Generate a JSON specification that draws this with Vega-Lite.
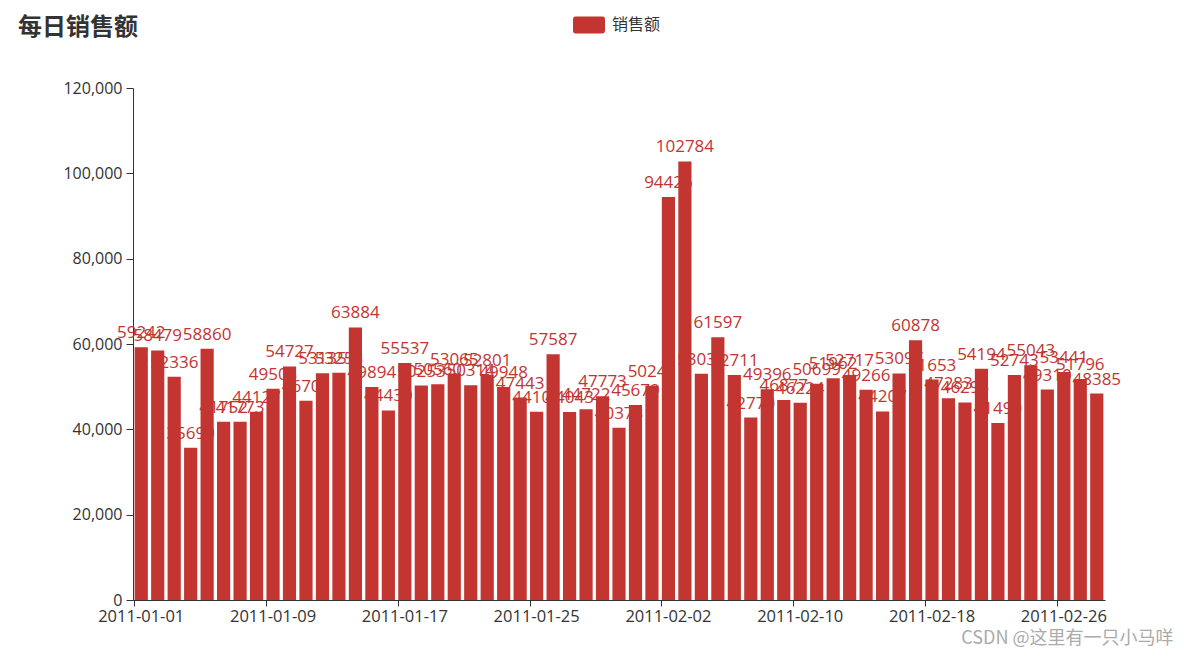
{
  "$schema": "https://vega.github.io/schema/vega-lite/v6.json",
  "autosize": {"type": "none"},
  "width": 972,
  "height": 512,
  "padding": {"left": 133, "top": 88, "right": 79, "bottom": 57},
  "background": "white",
  "view": {"stroke": null},
  "title": {
    "text": "每日销售额",
    "anchor": "start",
    "frame": "group",
    "dx": -115,
    "dy": 50,
    "offset": 0,
    "baseline": "alphabetic",
    "font": "Noto Sans CJK SC",
    "fontSize": 24,
    "fontWeight": "bold",
    "color": "#333333"
  },
  "data": {
    "values": [
      {"date": "2011-01-01", "sales": 59242, "series": "销售额"},
      {"date": "2011-01-02", "sales": 58479, "series": "销售额"},
      {"date": "2011-01-03", "sales": 52336, "series": "销售额"},
      {"date": "2011-01-04", "sales": 35690, "series": "销售额"},
      {"date": "2011-01-05", "sales": 58860, "series": "销售额"},
      {"date": "2011-01-06", "sales": 41752, "series": "销售额"},
      {"date": "2011-01-07", "sales": 41773, "series": "销售额"},
      {"date": "2011-01-08", "sales": 44127, "series": "销售额"},
      {"date": "2011-01-09", "sales": 49503, "series": "销售额"},
      {"date": "2011-01-10", "sales": 54727, "series": "销售额"},
      {"date": "2011-01-11", "sales": 46701, "series": "销售额"},
      {"date": "2011-01-12", "sales": 53135, "series": "销售额"},
      {"date": "2011-01-13", "sales": 53255, "series": "销售额"},
      {"date": "2011-01-14", "sales": 63884, "series": "销售额"},
      {"date": "2011-01-15", "sales": 49894, "series": "销售额"},
      {"date": "2011-01-16", "sales": 44430, "series": "销售额"},
      {"date": "2011-01-17", "sales": 55537, "series": "销售额"},
      {"date": "2011-01-18", "sales": 50253, "series": "销售额"},
      {"date": "2011-01-19", "sales": 50560, "series": "销售额"},
      {"date": "2011-01-20", "sales": 53065, "series": "销售额"},
      {"date": "2011-01-21", "sales": 50314, "series": "销售额"},
      {"date": "2011-01-22", "sales": 52801, "series": "销售额"},
      {"date": "2011-01-23", "sales": 49948, "series": "销售额"},
      {"date": "2011-01-24", "sales": 47443, "series": "销售额"},
      {"date": "2011-01-25", "sales": 44104, "series": "销售额"},
      {"date": "2011-01-26", "sales": 57587, "series": "销售额"},
      {"date": "2011-01-27", "sales": 44043, "series": "销售额"},
      {"date": "2011-01-28", "sales": 44722, "series": "销售额"},
      {"date": "2011-01-29", "sales": 47773, "series": "销售额"},
      {"date": "2011-01-30", "sales": 40378, "series": "销售额"},
      {"date": "2011-01-31", "sales": 45679, "series": "销售额"},
      {"date": "2011-02-01", "sales": 50241, "series": "销售额"},
      {"date": "2011-02-02", "sales": 94426, "series": "销售额"},
      {"date": "2011-02-03", "sales": 102784, "series": "销售额"},
      {"date": "2011-02-04", "sales": 53032, "series": "销售额"},
      {"date": "2011-02-05", "sales": 61597, "series": "销售额"},
      {"date": "2011-02-06", "sales": 52711, "series": "销售额"},
      {"date": "2011-02-07", "sales": 42770, "series": "销售额"},
      {"date": "2011-02-08", "sales": 49396, "series": "销售额"},
      {"date": "2011-02-09", "sales": 46877, "series": "销售额"},
      {"date": "2011-02-10", "sales": 46224, "series": "销售额"},
      {"date": "2011-02-11", "sales": 50699, "series": "销售额"},
      {"date": "2011-02-12", "sales": 51962, "series": "销售额"},
      {"date": "2011-02-13", "sales": 52717, "series": "销售额"},
      {"date": "2011-02-14", "sales": 49266, "series": "销售额"},
      {"date": "2011-02-15", "sales": 44207, "series": "销售额"},
      {"date": "2011-02-16", "sales": 53097, "series": "销售额"},
      {"date": "2011-02-17", "sales": 60878, "series": "销售额"},
      {"date": "2011-02-18", "sales": 51653, "series": "销售额"},
      {"date": "2011-02-19", "sales": 47283, "series": "销售额"},
      {"date": "2011-02-20", "sales": 46295, "series": "销售额"},
      {"date": "2011-02-21", "sales": 54194, "series": "销售额"},
      {"date": "2011-02-22", "sales": 41490, "series": "销售额"},
      {"date": "2011-02-23", "sales": 52743, "series": "销售额"},
      {"date": "2011-02-24", "sales": 55043, "series": "销售额"},
      {"date": "2011-02-25", "sales": 49310, "series": "销售额"},
      {"date": "2011-02-26", "sales": 53441, "series": "销售额"},
      {"date": "2011-02-27", "sales": 51796, "series": "销售额"},
      {"date": "2011-02-28", "sales": 48385, "series": "销售额"}
    ]
  },
  "encoding": {
    "x": {
      "field": "date",
      "type": "ordinal",
      "sort": null,
      "scale": {"paddingInner": 0.2, "paddingOuter": 0.1},
      "axis": {
        "title": "CSDN @这里有一只小马咩",
        "titleX": 1040,
        "titleY": 38,
        "titleAlign": "right",
        "titleBaseline": "middle",
        "titleAngle": 0,
        "titleFont": "Noto Sans CJK SC",
        "titleFontSize": 18,
        "titleFontWeight": "normal",
        "titleColor": "#ababab",
        "values": ["2011-01-01", "2011-01-09", "2011-01-17", "2011-01-25", "2011-02-02", "2011-02-10", "2011-02-18", "2011-02-26"],
        "bandPosition": 0,
        "labelAngle": 0,
        "labelFont": "Open Sans",
        "labelFontSize": 16.5,
        "labelColor": "#333333",
        "labelPadding": 2,
        "domainColor": "#333333",
        "tickColor": "#333333",
        "tickSize": 6,
        "grid": false
      }
    },
    "y": {
      "field": "sales",
      "type": "quantitative",
      "scale": {"domain": [0, 120000], "nice": false},
      "axis": {
        "title": null,
        "values": [0, 20000, 40000, 60000, 80000, 100000, 120000],
        "format": ",d",
        "labelFont": "Open Sans",
        "labelFontSize": 16,
        "labelColor": "#333333",
        "labelPadding": 4,
        "domainColor": "#333333",
        "tickColor": "#333333",
        "tickSize": 7,
        "grid": false
      }
    }
  },
  "layer": [
    {
      "mark": {"type": "bar"},
      "encoding": {
        "color": {
          "field": "series",
          "type": "nominal",
          "scale": {"range": ["#c23531"]},
          "legend": {
            "title": null,
            "orient": "none",
            "legendX": 440,
            "legendY": -79,
            "symbolType": "M-0.85,-0.53 L0.85,-0.53 Q1,-0.53 1,-0.38 L1,0.38 Q1,0.53 0.85,0.53 L-0.85,0.53 Q-1,0.53 -1,0.38 L-1,-0.38 Q-1,-0.53 -0.85,-0.53 Z",
            "symbolSize": 1024,
            "symbolStrokeWidth": 0,
            "symbolOpacity": 1,
            "labelFont": "Noto Sans CJK SC",
            "labelFontSize": 16,
            "labelColor": "#333333",
            "labelOffset": 7
          }
        }
      }
    },
    {
      "mark": {"type": "text", "baseline": "bottom", "dy": -5, "font": "Open Sans", "fontSize": 17, "color": "#c23531"},
      "encoding": {
        "text": {"field": "sales", "type": "quantitative", "format": "d"}
      }
    }
  ]
}
